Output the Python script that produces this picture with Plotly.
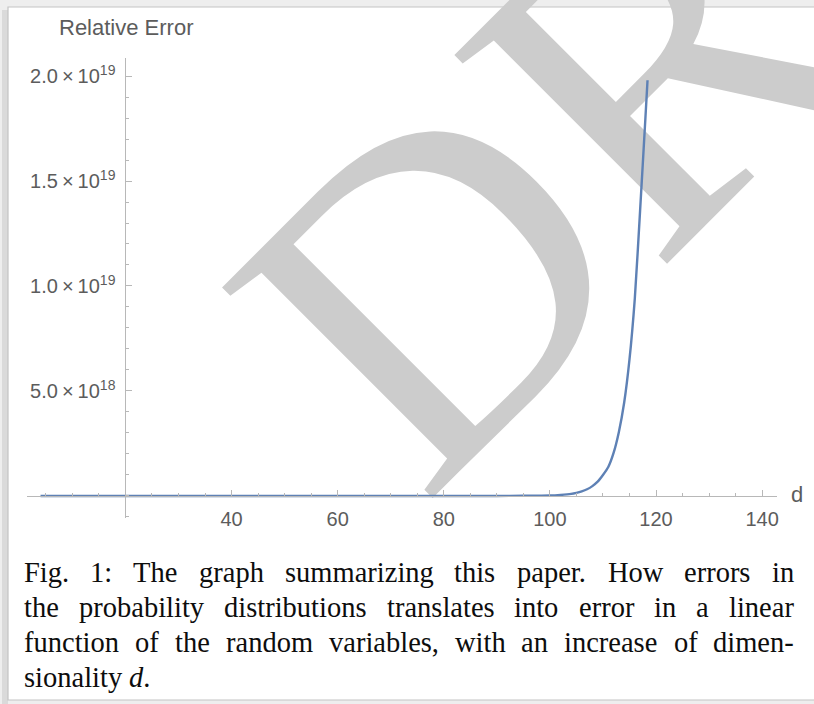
import plotly.graph_objects as go

# ---------------- data ----------------
d_values = [4, 20, 40, 60, 80, 90, 95, 98, 100, 102, 104, 105, 106, 107, 108, 109,
            110, 111, 112, 113, 114, 115, 116, 117, 118, 118.4]
rel_error = [0.0, 0.0, 0.0, 0.0, 0.0, 0.002e18, 0.008e18, 0.015e18, 0.02e18, 0.05e18,
             0.10e18, 0.15e18, 0.22e18, 0.32e18, 0.47e18, 0.68e18,
             1.0e18, 1.38e18, 2.05e18, 3.05e18, 4.45e18, 6.5e18, 9.4e18, 13.6e18, 18.0e18, 19.8e18]

x_tick_vals = [40, 60, 80, 100, 120, 140]
x_tick_text = ["40", "60", "80", "100", "120", "140"]
y_tick_vals = [5.0e18, 1.0e19, 1.5e19, 2.0e19]
y_tick_text = ["5.0\u2009×\u200910<sup>18</sup>", "1.0\u2009×\u200910<sup>19</sup>",
               "1.5\u2009×\u200910<sup>19</sup>", "2.0\u2009×\u200910<sup>19</sup>"]

caption_lines = [
    ["Fig.", "1:", "The", "graph", "summarizing", "this", "paper.", "How", "errors", "in"],
    ["the", "probability", "distributions", "translates", "into", "error", "in", "a", "linear"],
    ["function", "of", "the", "random", "variables,", "with", "an", "increase", "of", "dimen-"],
    ["sionality", "d."],
]
caption_justified = [True, True, True, False]

# ---------------- layout geometry (pixels) ----------------
W, H = 814, 704
PL, PR, PT, PB = 27, 777, 58, 518
x_range = [1.45, 142.8]
y_range = [-1.048e18, 2.0857e19]
y_axis_at = 20
x_axis_at = 0


def px_x(px):
    return (px - PL) / (PR - PL)


def px_y(py):
    return (PB - py) / (PB - PT)


tick_font = dict(family="Liberation Sans, Arial, sans-serif", size=20, color="#5c5c5c")
axis_col = "#b8b8b8"

fig = go.Figure()
fig.add_trace(go.Scatter(x=d_values, y=rel_error, mode="lines",
                         line=dict(color="#5E81B5", width=2.4, shape="spline", smoothing=0.6),
                         hoverinfo="skip", showlegend=False))

fig.update_layout(
    width=W, height=H,
    margin=dict(l=PL, r=W - PR, t=PT, b=H - PB, pad=0),
    paper_bgcolor="#eeeeee",
    plot_bgcolor="rgba(0,0,0,0)",
    showlegend=False,
    xaxis=dict(
        range=x_range, domain=[0, 1], anchor="free",
        position=(x_axis_at - y_range[0]) / (y_range[1] - y_range[0]),
        showgrid=False, zeroline=False,
        showline=True, linecolor=axis_col, linewidth=1,
        ticks="inside", ticklen=6, tickcolor=axis_col, tickwidth=1,
        tickvals=x_tick_vals, ticktext=x_tick_text,
        tickfont=tick_font, ticklabelstandoff=5,
        minor=dict(tickmode="linear", tick0=0, dtick=5, ticks="inside",
                   ticklen=3, tickcolor=axis_col),
    ),
    yaxis=dict(
        range=y_range, domain=[0, 1], anchor="free",
        position=(y_axis_at - x_range[0]) / (x_range[1] - x_range[0]),
        showgrid=False, zeroline=False,
        showline=True, linecolor=axis_col, linewidth=1,
        ticks="inside", ticklen=6, tickcolor=axis_col, tickwidth=1,
        tickvals=y_tick_vals, ticktext=y_tick_text,
        tickfont=tick_font, ticklabelstandoff=6,
        minor=dict(tickmode="linear", tick0=0, dtick=1e18, ticks="inside",
                   ticklen=3, tickcolor=axis_col),
    ),
)

# page shadow strip on the left, frame (page border) and DRAFT watermark below the data
fig.add_shape(type="rect", xref="paper", yref="paper",
              x0=px_x(2), x1=px_x(8), y0=px_y(704), y1=px_y(10),
              line=dict(width=0), fillcolor="#dadada", layer="below")
fig.add_shape(type="rect", xref="paper", yref="paper",
              x0=px_x(8), x1=px_x(840), y0=px_y(700), y1=px_y(7),
              line=dict(color="#c4c4c4", width=1.2), fillcolor="white", layer="below")
wm_x, wm_y = 503, 140
fig.add_shape(type="rect", xref="paper", yref="paper",
              x0=px_x(wm_x) - 0.001, x1=px_x(wm_x) + 0.001,
              y0=px_y(wm_y) - 0.001, y1=px_y(wm_y) + 0.001,
              line=dict(width=0), fillcolor="rgba(0,0,0,0)", layer="below",
              label=dict(text="DR", textangle=-45, textposition="middle center",
                         font=dict(family="Liberation Serif, Times New Roman, serif",
                                   size=455, color="#cccccc")))

# axis labels
fig.add_annotation(x=px_x(126), y=px_y(28), xref="paper", yref="paper",
                   text="Relative Error", showarrow=False, xanchor="center", yanchor="middle",
                   font=dict(family="Liberation Sans, Arial, sans-serif", size=22, color="#5c5c5c"))
fig.add_annotation(x=px_x(789), y=px_y(494), xref="paper", yref="paper",
                   text="d", showarrow=False, xanchor="left", yanchor="middle",
                   font=dict(family="Liberation Sans, Arial, sans-serif", size=22, color="#5c5c5c"))

# caption, word by word, justified using Times metrics (units of 1/1000 em)
times_w = {
    'a': 444, 'b': 500, 'c': 444, 'd': 500, 'e': 444, 'f': 333, 'g': 500, 'h': 500,
    'i': 278, 'j': 278, 'k': 500, 'l': 278, 'm': 778, 'n': 500, 'o': 500, 'p': 500,
    'q': 500, 'r': 333, 's': 389, 't': 278, 'u': 500, 'v': 500, 'w': 722, 'x': 500,
    'y': 500, 'z': 444, 'F': 556, 'T': 611, 'H': 722, '1': 500, '.': 250, ':': 278,
    ',': 250, '-': 333,
}
cap_size = 28.5
space_w = 0.25 * cap_size
left_px, right_px = 22, 792
line_y = [572, 607, 642, 677]
cap_font = dict(family="Liberation Serif, Times New Roman, serif", size=cap_size, color="#0d0d0d")


def word_width(w):
    return sum(times_w.get(c, 500) for c in w) / 1000.0 * cap_size


for words, just, yy in zip(caption_lines, caption_justified, line_y):
    widths = [word_width(w) for w in words]
    if just and len(words) > 1:
        gap = (right_px - left_px - sum(widths)) / (len(words) - 1)
    else:
        gap = space_w
    xx = left_px
    for w, ww in zip(words, widths):
        txt = w
        if w == "d.":
            txt = "<i>d</i>."
        fig.add_annotation(x=px_x(xx), y=px_y(yy), xref="paper", yref="paper",
                           text=txt, showarrow=False, xanchor="left", yanchor="middle",
                           font=cap_font)
        xx += ww + gap

fig.write_html("out.html", config={"displayModeBar": False},
               post_script="document.body.style.margin='0';")
